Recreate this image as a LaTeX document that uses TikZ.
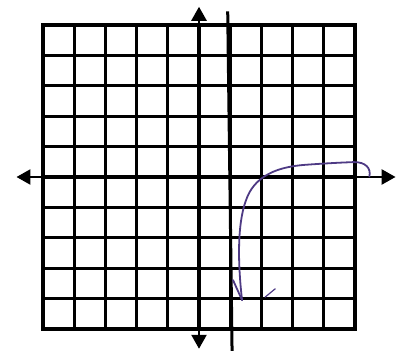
\documentclass[tikz,border=0pt]{standalone}
\usetikzlibrary{arrows.meta}
\tikzset{every picture/.style={line width=0.75pt}}
\definecolor{penviolet}{RGB}{78,58,132}

\begin{document}
\begin{tikzpicture}[
    x=1pt,y=1pt,
    gridline/.style={line width=3.1pt,black},
    axis/.style={line width=2.6pt,black,{Triangle[length=14pt,width=15pt]}-{Triangle[length=14pt,width=15pt]}},
    asymptote/.style={line width=3pt,black},
    graph/.style={line width=1.8pt,draw=penviolet,line cap=round,line join=round}
]
    \useasboundingbox (0,0) rectangle (406,350);
    \begin{scope}[shift={(199,173)},x=31.2pt,y=30.4pt]
    % Grid
    \foreach \i in {-5,...,5} {
        \draw[gridline] (\i,-5) -- (\i,5);
        \draw[gridline] (-5,\i) -- (5,\i);
    }
    \draw[gridline,line width=4pt] (-5,-5) rectangle (5,5);

    % Axes
    \draw[axis] (-5.85,0) -- (6.3,0);
    \draw[axis] (0,-5.65) -- (0,5.6);

    % Vertical line x = 1
    \draw[asymptote] (0.92,5.45) -- (1.06,-5.75);

    % Curve
    \draw[graph] (1.38,-4.05) .. controls (1.24,-2.8) and (1.2,-1.3) .. (1.62,-0.5)
        .. controls (1.95,0.1) and (2.6,0.34) .. (3.4,0.40)
        .. controls (4.2,0.46) and (4.7,0.48) .. (4.95,0.49)
        .. controls (5.35,0.5) and (5.52,0.28) .. (5.46,0.02);
    \draw[graph] (1.09,-3.39) -- (1.38,-4.05);
    \draw[graph,line width=1.2pt] (2.12,-3.95) -- (2.44,-3.68);
    \end{scope}
\end{tikzpicture}
\end{document}
